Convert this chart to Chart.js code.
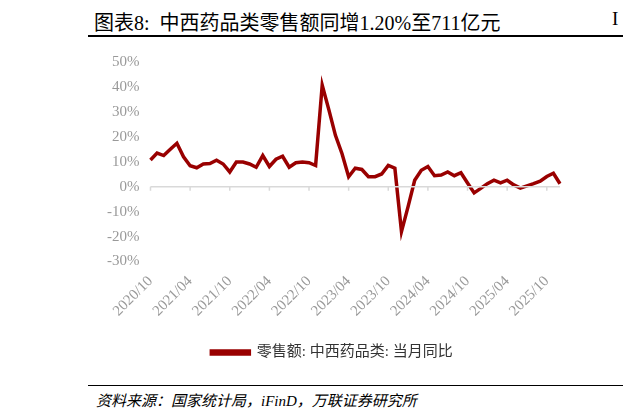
<!DOCTYPE html>
<html><head><meta charset="utf-8">
<script src="https://cdn.jsdelivr.net/npm/chart.js@4"></script>
<style>
body{margin:0;width:623px;height:420px;background:#fff;position:relative;overflow:hidden;font-family:"Liberation Serif","Noto Sans CJK SC",serif}
#title{position:absolute;left:94px;top:7px;font-size:20px;color:#000}
#tline{position:absolute;left:88px;top:35px;width:535px;height:1.5px;background:#000}
#bline{position:absolute;left:88px;top:385px;width:535px;height:1px;background:#000}
#src{position:absolute;left:96px;top:389px;font-size:15px;font-style:italic}
#edge{position:absolute;left:612px;top:8px;font-size:19px}
#c{position:absolute;left:90px;top:50px}
</style></head><body>
<div id="title">图表8:&nbsp; 中西药品类零售额同增1.20%至711亿元</div>
<div id="edge">I</div>
<div id="tline"></div>
<canvas id="c" width="500" height="320"></canvas>
<div id="bline"></div>
<div id="src">资料来源：国家统计局，iFinD，万联证券研究所</div>
<script>
const values=[10.7,13.5,12.5,15,17.4,12,8.4,7.6,9.1,9.3,10.6,9.1,5.9,9.9,9.9,9.1,7.8,12.5,8.1,11,12.2,7.8,9.6,9.9,9.6,8.5,40.7,30.9,20.6,13.2,4,7.4,6.9,4,4,5.1,8.5,7.4,-18,-8,2.6,6.6,8.1,4.4,4.7,5.9,4.4,5.6,1.5,-2.5,-0.7,1.2,2.6,1.5,2.6,0.7,-0.6,0.3,1.2,2.2,4.1,5.4,1.2];
const labels=[];
(function(){let y=2020,m=10;for(let i=0;i<values.length;i++){labels.push(y+'/'+(m<10?'0'+m:m));m++;if(m>12){m=1;y++;}}})();
const seriesName='零售额: 中西药品类: 当月同比';
new Chart(document.getElementById('c'),{type:'line',
data:{labels,datasets:[{label:seriesName,data:values,borderColor:'#990000',backgroundColor:'#990000',borderWidth:3.5,pointRadius:0,tension:0}]},
options:{responsive:false,animation:false,
layout:{padding:{left:14,right:30,top:10}},
plugins:{legend:{position:'bottom',labels:{padding:22,boxWidth:38,boxHeight:3,color:'#333',font:{size:15,family:'"Liberation Serif","Noto Sans CJK SC"'}}}},
scales:{
y:{min:-30,max:50,ticks:{stepSize:10,color:'#999',font:{size:15,family:'"Liberation Serif"'},callback:v=>v+'%'},grid:{display:false},border:{display:false}},
x:{offset:false,grid:{display:false},border:{display:false},
ticks:{color:'#999',maxRotation:45,minRotation:45,autoSkip:false,font:{size:15,family:'"Liberation Serif"'},callback:function(v,i){return i%6===0?labels[i]:'';}}}
}},
plugins:[{id:'zero',afterDatasetsDraw(ch){const c=ch.ctx,y=ch.scales.y.getPixelForValue(0),xs=ch.scales.x;c.save();c.strokeStyle='#d9d9d9';c.lineWidth=1.5;c.beginPath();c.moveTo(xs.left,y);c.lineTo(xs.right,y);for(let i=0;i<labels.length;i+=6){const x=xs.getPixelForValue(i);c.moveTo(x,y);c.lineTo(x,y+4);}c.stroke();c.restore();}}]
});
</script></body></html>
